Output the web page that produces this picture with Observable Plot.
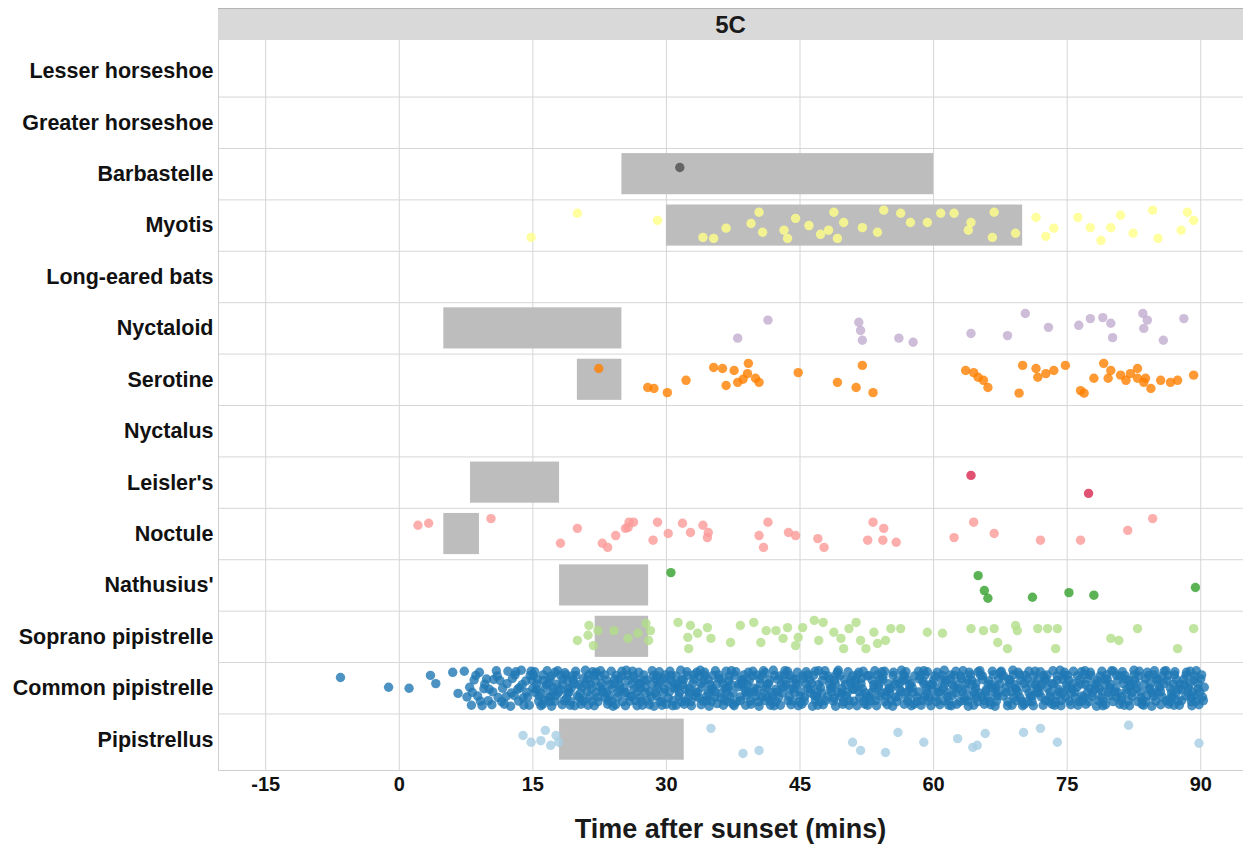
<!DOCTYPE html>
<html>
<head>
<meta charset="utf-8">
<script src="https://cdn.jsdelivr.net/npm/d3@7"></script>
<script src="https://cdn.jsdelivr.net/npm/@observablehq/plot@0.6"></script>
<style>
  body { margin: 0; background: #fff; }
  #wrap { position: relative; width: 1243px; height: 854px; font-family: "Liberation Sans", Arial, sans-serif; }
  #strip { position: absolute; left: 218px; top: 8px; width: 1025px; height: 32px; background: #d9d9d9; border-top: 1px solid #b5b5b5; box-sizing: border-box; display: flex; align-items: center; justify-content: center; font-weight: bold; font-size: 24px; color: #1a1a1a; }
  #chart { position: absolute; left: 0; top: 40px; }
  #xlabel { position: absolute; left: 218px; width: 1025px; top: 814px; line-height: 30px; text-align: center; font-weight: bold; font-size: 27px; color: #1a1a1a; }
</style>
</head>
<body>
<div id="wrap">
  <div id="strip"></div>
  <div id="chart"></div>
  <div id="xlabel"></div>
</div>
<script>
const panelLabel = "5C";
const xTitle = "Time after sunset (mins)";
const species = ["Lesser horseshoe","Greater horseshoe","Barbastelle","Myotis","Long-eared bats","Nyctaloid","Serotine","Nyctalus","Leisler's","Noctule","Nathusius'","Soprano pipistrelle","Common pipistrelle","Pipistrellus"];
const speciesColors = ["#999999","#999999","#4d4d4d","#FFFF88","#6A3D9A","#C2ACD0","#FF7F00","#FDBF6F","#D9264E","#FB9A99","#33A02C","#B2DF8A","#1F78B4","#A6CEE3"];
const xTicks = [-15, 0, 15, 30, 45, 60, 75, 90];
const xDomain = [-20.3, 94.8];
const yDomain = [-0.6, 13.6];

// grey bars: species, start, end (mins)
const barSpecies = ["Barbastelle","Myotis","Nyctaloid","Serotine","Leisler's","Noctule","Nathusius'","Soprano pipistrelle","Pipistrellus"];
const barStart = [25, 30, 5, 20, 8, 5, 18, 22, 18];
const barEnd   = [60, 70, 25, 25, 18, 9, 28, 28, 32];

// points: x (mins) and vertical jitter (fraction of row)
const barbastelleX = [31.5];
const barbastelleJ = [-0.13];

const myotisX = [14.8,20.0,29.0,34.1,35.3,36.7,39.5,40.4,40.8,43.2,43.6,44.5,46.0,47.3,48.2,48.8,49.2,49.9,52.0,53.7,54.4,56.3,57.4,59.3,60.8,62.3,63.9,64.2,66.8,66.6,69.2,71.5,72.6,73.5,76.2,77.6,78.8,79.9,81.0,82.4,84.6,85.2,87.8,88.5,89.2];
const myotisJ = [0.23,-0.24,-0.10,0.23,0.25,0.05,-0.04,-0.26,0.13,0.09,0.25,-0.14,0.00,0.17,0.09,-0.26,0.25,-0.06,0.04,0.13,-0.30,-0.24,-0.06,-0.06,-0.24,-0.24,0.09,-0.06,-0.26,0.23,0.15,-0.16,0.21,0.05,-0.16,0.04,0.29,0.04,-0.20,0.15,-0.30,0.25,0.09,-0.26,-0.10];

const nyctaloidX = [38.0,41.4,51.6,51.8,52.0,56.1,57.7,64.2,68.3,70.3,72.9,76.3,77.6,79.0,79.9,80.1,83.5,84.0,83.6,85.8,88.1];
const nyctaloidJ = [0.19,-0.16,-0.12,0.04,0.23,0.19,0.27,0.10,0.14,-0.29,-0.02,-0.06,-0.19,-0.21,-0.10,0.18,-0.29,-0.16,0.00,0.23,-0.19];

const serotineX = [22.4,27.9,28.6,30.1,32.2,35.3,36.3,37.6,36.7,38.0,38.6,39.2,39.1,40.0,40.4,44.8,49.2,51.3,52.0,53.2,63.6,64.5,65.0,65.6,66.1,69.6,70.0,71.5,71.7,72.6,73.5,74.8,76.5,76.9,78.0,79.1,79.6,79.9,81.0,81.6,82.1,82.9,82.9,83.6,83.8,84.4,85.5,86.6,87.4,89.2];
const serotineJ = [-0.22,0.15,0.17,0.25,0.01,-0.24,-0.22,-0.18,0.11,0.05,-0.01,-0.32,-0.12,-0.03,0.05,-0.14,0.05,0.15,-0.28,0.25,-0.18,-0.14,-0.05,0.01,0.15,0.26,-0.28,-0.22,-0.05,-0.12,-0.18,-0.28,0.21,0.26,-0.03,-0.32,-0.03,-0.18,-0.09,0.01,-0.12,-0.22,-0.03,0.05,-0.03,0.17,0.01,0.05,0.01,-0.09];

const leislerX = [64.2, 77.4];
const leislerJ = [-0.14, 0.21];

const noctuleX = [2.1,3.3,10.3,18.1,20.0,22.8,23.4,24.3,25.4,25.8,26.3,25.7,28.5,29.0,30.2,31.8,32.7,34.1,34.7,34.6,40.4,40.9,41.4,43.7,44.5,47.0,47.7,52.6,53.2,54.3,54.4,55.8,62.3,64.5,66.8,72.0,76.5,81.8,84.6];
const noctuleJ = [-0.17,-0.21,-0.30,0.18,-0.11,0.18,0.26,0.03,-0.11,-0.23,-0.23,-0.13,0.12,-0.23,-0.01,-0.21,-0.03,-0.17,-0.03,0.07,0.03,0.26,-0.23,-0.03,0.03,0.09,0.26,0.12,-0.23,0.12,-0.11,0.16,0.07,-0.23,-0.01,0.12,0.12,-0.07,-0.30];

const nathusiusX = [30.5,65.0,65.7,66.1,71.1,75.2,78.0,89.4];
const nathusiusJ = [-0.25,-0.19,0.10,0.25,0.23,0.14,0.19,0.04];

const sopranoX = [20.0,21.2,21.8,21.3,22.3,24.1,25.7,26.8,27.7,28.0,28.2,31.3,32.7,32.4,33.5,34.6,35.0,32.5,37.2,38.3,39.8,40.6,41.2,42.3,43.1,43.6,44.5,44.8,45.3,46.6,47.1,47.6,48.8,49.6,49.9,50.5,51.3,51.8,52.4,53.3,53.7,54.6,55.2,56.3,59.3,61.0,64.2,65.6,66.8,67.2,68.3,69.2,69.4,71.7,72.8,73.9,73.7,79.9,80.8,82.9,87.4,89.2];
const sopranoJ = [0.07,-0.03,0.17,-0.22,-0.12,-0.12,0.03,-0.07,-0.26,0.07,-0.12,-0.28,-0.22,0.01,-0.07,-0.18,0.03,0.23,0.11,-0.22,-0.28,0.11,-0.12,-0.12,0.03,-0.18,0.17,0.01,-0.18,-0.32,0.07,-0.28,-0.09,0.03,0.23,-0.16,-0.28,0.07,0.23,-0.09,0.13,0.07,-0.16,-0.16,-0.09,-0.07,-0.16,-0.12,-0.16,0.11,0.23,-0.22,-0.12,-0.16,-0.16,-0.16,0.23,0.03,0.07,-0.16,0.23,-0.16];

const commonX = [-6.6,-1.2,1.1,3.5,4.1,6.0,6.6,
7.3,7.6,7.9,8.1,8.4,8.8,9.0,9.3,9.5,9.8,10.1,10.4,10.6,10.9,11.1,11.3,11.6,11.8,12.0,12.2,12.5,12.7,12.9,13.1,13.3,13.5,13.7,13.9,14.0,14.2,14.4,14.6,14.8,14.9,
15.0,15.2,15.4,15.5,15.7,15.9, 16.1,16.2,16.4,16.6,16.7,16.9, 17.0,17.1,17.3,17.5,17.6,17.8, 18.1,18.3,18.4,18.6,18.8,18.9, 19.0,19.2,19.3,19.5,19.7,19.8,
20.0,20.2,20.4,20.5,20.7,20.9, 21.1,21.2,21.4,21.6,21.7,21.9, 22.0,22.1,22.3,22.5,22.6,22.8, 23.1,23.3,23.4,23.6,23.8,23.9, 24.0,24.2,24.3,24.5,24.7,24.8,
25.0,25.2,25.4,25.5,25.7,25.9, 26.1,26.2,26.4,26.6,26.7,26.9, 27.0,27.1,27.3,27.5,27.6,27.8, 28.1,28.3,28.4,28.6,28.8,28.9, 29.0,29.2,29.3,29.5,29.7,29.8,
30.0,30.2,30.4,30.5,30.7,30.9, 31.1,31.2,31.4,31.6,31.7,31.9, 32.0,32.1,32.3,32.5,32.6,32.8, 33.1,33.3,33.4,33.6,33.8,33.9, 34.0,34.2,34.3,34.5,34.7,34.8,
35.0,35.2,35.4,35.5,35.7,35.9, 36.1,36.2,36.4,36.6,36.7,36.9, 37.0,37.1,37.3,37.5,37.6,37.8, 38.1,38.3,38.4,38.6,38.8,38.9, 39.0,39.2,39.3,39.5,39.7,39.8,
40.0,40.2,40.4,40.5,40.7,40.9, 41.1,41.2,41.4,41.6,41.7,41.9, 42.0,42.1,42.3,42.5,42.6,42.8, 43.1,43.3,43.4,43.6,43.8,43.9, 44.0,44.2,44.3,44.5,44.7,44.8,
45.0,45.2,45.4,45.5,45.7,45.9, 46.1,46.2,46.4,46.6,46.7,46.9, 47.0,47.1,47.3,47.5,47.6,47.8, 48.1,48.3,48.4,48.6,48.8,48.9, 49.0,49.2,49.3,49.5,49.7,49.8,
50.0,50.2,50.4,50.5,50.7,50.9, 51.1,51.2,51.4,51.6,51.7,51.9, 52.0,52.1,52.3,52.5,52.6,52.8, 53.1,53.3,53.4,53.6,53.8,53.9, 54.0,54.2,54.3,54.5,54.7,54.8,
55.0,55.2,55.4,55.5,55.7,55.9, 56.1,56.2,56.4,56.6,56.7,56.9, 57.0,57.1,57.3,57.5,57.6,57.8, 58.1,58.3,58.4,58.6,58.8,58.9, 59.0,59.2,59.3,59.5,59.7,59.8,
60.0,60.2,60.4,60.5,60.7,60.9, 61.1,61.2,61.4,61.6,61.7,61.9, 62.0,62.1,62.3,62.5,62.6,62.8, 63.1,63.3,63.4,63.6,63.8,63.9, 64.0,64.2,64.3,64.5,64.7,64.8,
65.0,65.2,65.4,65.5,65.7,65.9, 66.1,66.2,66.4,66.6,66.7,66.9, 67.0,67.1,67.3,67.5,67.6,67.8, 68.1,68.3,68.4,68.6,68.8,68.9, 69.0,69.2,69.3,69.5,69.7,69.8,
70.0,70.2,70.4,70.5,70.7,70.9, 71.1,71.2,71.4,71.6,71.7,71.9, 72.0,72.1,72.3,72.5,72.6,72.8, 73.1,73.3,73.4,73.6,73.8,73.9, 74.0,74.2,74.3,74.5,74.7,74.8,
75.0,75.2,75.4,75.5,75.7,75.9, 76.1,76.2,76.4,76.6,76.7,76.9, 77.0,77.1,77.3,77.5,77.6,77.8, 78.1,78.3,78.4,78.6,78.8,78.9, 79.0,79.2,79.3,79.5,79.7,79.8,
80.0,80.2,80.4,80.5,80.7,80.9, 81.1,81.2,81.4,81.6,81.7,81.9, 82.0,82.1,82.3,82.5,82.6,82.8, 83.1,83.3,83.4,83.6,83.8,83.9, 84.0,84.2,84.3,84.5,84.7,84.8,
85.0,85.2,85.4,85.5,85.7,85.9, 86.1,86.2,86.4,86.6,86.7,86.9, 87.0,87.1,87.3,87.5,87.6,87.8, 88.1,88.3,88.4,88.6,88.8,88.9, 89.0,89.2,89.3,89.5,89.7,89.8,
90.0,90.2,90.4];
const commonJ = [-0.21,-0.02,0.00,-0.25,-0.09,-0.31,0.10,
-0.33,0.17,-0.02,0.33,-0.16,0.15,-0.31,0.34,0.01,-0.18,
0.02,0.32,-0.17,-0.34,0.18,-0.15,0.00,0.31,0.16,-0.33,
0.35,-0.19,0.14,-0.32,0.02,-0.01,-0.35,0.19,0.33,-0.14,
0.17,0.33,-0.33,-0.16,0.00,-0.32,0.02,-0.17,0.15,0.34,
0.31,-0.15,0.00,-0.34,0.17,-0.18,0.16,0.35,-0.01,-0.31,
0.14,-0.34,0.03,0.32,-0.18,-0.30,0.19,-0.15,0.01,0.33,
0.00,-0.16,0.34,-0.33,0.15,0.18,0.31,-0.02,-0.19,-0.35,
-0.17,0.33,0.16,0.01,-0.32,0.34,-0.14,-0.31,0.17,-0.03,
-0.34,0.02,0.18,-0.16,0.31,0.15,-0.33,0.00,0.35,-0.17,
0.32,0.17,-0.18,0.02,-0.33,-0.01,0.34,-0.35,-0.15,0.16,
0.16,-0.33,0.01,-0.17,0.34,-0.31,0.18,0.00,0.33,-0.15,
-0.02,-0.16,0.32,0.17,-0.34,0.35,-0.18,0.15,-0.01,-0.32,
-0.14,0.33,-0.19,0.02,0.31,0.19,-0.33,-0.15,0.34,0.00,
0.33,-0.01,0.16,-0.35,-0.17,-0.16,0.31,0.02,-0.32,0.17,
0.00,0.34,-0.17,0.15,-0.31,0.18,-0.35,0.32,-0.02,-0.15,
-0.31,0.15,-0.16,0.35,0.02,0.01,0.17,-0.34,0.30,-0.19,
0.19,-0.18,0.33,0.00,-0.33,-0.02,-0.15,0.16,-0.34,0.31,
0.34,-0.32,-0.03,0.17,-0.16,-0.17,0.01,0.33,0.14,-0.31,
-0.15,0.31,-0.33,0.00,0.16,0.02,0.35,-0.18,0.17,-0.34,
-0.30,0.00,0.18,-0.16,0.33,0.15,-0.35,0.34,0.02,-0.17,
0.18,0.33,-0.02,-0.34,-0.15,-0.33,0.16,0.01,0.32,-0.18,
0.01,-0.17,-0.31,0.34,0.15,0.31,-0.19,0.17,-0.32,0.00,
-0.16,0.02,0.35,0.14,-0.33,0.17,0.33,-0.34,-0.01,-0.15,
0.32,-0.34,0.16,-0.18,0.01,-0.02,0.19,-0.15,0.35,-0.31,
-0.35,0.16,0.00,0.31,-0.17,0.15,-0.32,0.33,-0.16,0.02,
0.02,-0.15,0.34,-0.31,0.18,-0.19,0.01,-0.33,0.31,0.16,
0.33,0.17,-0.16,0.00,-0.34,0.34,-0.02,0.15,-0.18,-0.32,
-0.17,-0.33,0.15,0.32,0.01,0.00,0.35,-0.31,0.17,-0.14,
0.16,0.02,-0.35,-0.15,0.31,-0.32,-0.17,0.18,0.02,0.34,
-0.01,0.31,0.17,-0.33,-0.18,0.33,-0.14,-0.34,0.16,0.00,
-0.32,0.18,0.34,0.02,-0.16,0.17,-0.31,-0.01,0.32,-0.17,
0.00,-0.35,-0.15,0.16,0.33,-0.18,0.34,0.14,-0.02,-0.33,
0.31,0.01,-0.19,-0.34,0.17,0.02,-0.16,0.35,-0.31,0.15,
-0.15,0.33,0.00,0.18,-0.32,-0.34,0.16,-0.17,0.31,0.03,
0.17,-0.14,0.32,-0.33,0.00,0.35,-0.02,0.15,-0.18,-0.31,
-0.33,0.15,-0.01,0.34,-0.17,-0.16,0.33,-0.35,0.18,0.01,
0.02,-0.31,0.18,-0.15,0.34,0.31,0.00,-0.18,-0.33,0.16,
0.15,0.34,-0.33,0.01,-0.17,-0.02,-0.32,0.17,0.33,-0.15,
-0.18,0.00,0.16,0.31,-0.34,0.33,0.14,-0.16,0.02,-0.35,
0.34,-0.17,-0.31,0.17,0.00,-0.15,0.32,0.01,-0.33,0.18,
-0.02,0.33,-0.16,-0.32,0.15,0.17,-0.34,0.31,-0.18,0.00,
-0.31,0.16,0.02,0.35,-0.15,0.01,0.18,-0.33,0.34,-0.17,
0.32,-0.18,0.15,-0.01,-0.34,-0.33,0.00,0.17,-0.16,0.31,
0.17,-0.32,0.33,-0.17,0.02,-0.15,0.34,-0.02,0.16,-0.35,
-0.16,0.01,-0.33,0.18,0.31,0.33,-0.19,0.15,-0.31,0.02,
0.00,0.35,0.16,-0.34,-0.17,-0.18,-0.01,0.32,0.17,-0.33,
-0.34,-0.15,0.31,0.00,0.17,0.16,0.33,-0.32,-0.16,0.02,
0.33,0.02,-0.17,0.15,-0.31,-0.01,-0.33,0.18,0.34,-0.16,
0.15,-0.34,0.01,0.32,-0.18,0.17,-0.02];

// second, denser pass of common pipistrelle passes (8-90 mins)
const commonX2 = [
8.2,8.6,9.1,9.6,10.0,10.5,11.0,11.5,12.1,12.6,13.0,13.4,13.8,14.3,14.7,
15.05,15.25,15.45,15.65,15.85, 16.15,16.35,16.55,16.75,16.95, 17.08,17.28,17.48,17.68,17.88, 18.12,18.32,18.52,18.72,18.92,
19.05,19.25,19.45,19.65,19.85, 20.15,20.35,20.55,20.75,20.95, 21.08,21.28,21.48,21.68,21.88, 22.12,22.32,22.52,22.72,22.92,
23.05,23.25,23.45,23.65,23.85, 24.15,24.35,24.55,24.75,24.95, 25.08,25.28,25.48,25.68,25.88, 26.12,26.32,26.52,26.72,26.92,
27.05,27.25,27.45,27.65,27.85, 28.15,28.35,28.55,28.75,28.95, 29.08,29.28,29.48,29.68,29.88, 30.12,30.32,30.52,30.72,30.92,
31.05,31.25,31.45,31.65,31.85, 32.15,32.35,32.55,32.75,32.95, 33.08,33.28,33.48,33.68,33.88, 34.12,34.32,34.52,34.72,34.92,
35.05,35.25,35.45,35.65,35.85, 36.15,36.35,36.55,36.75,36.95, 37.08,37.28,37.48,37.68,37.88, 38.12,38.32,38.52,38.72,38.92,
39.05,39.25,39.45,39.65,39.85, 40.15,40.35,40.55,40.75,40.95, 41.08,41.28,41.48,41.68,41.88, 42.12,42.32,42.52,42.72,42.92,
43.05,43.25,43.45,43.65,43.85, 44.15,44.35,44.55,44.75,44.95, 45.08,45.28,45.48,45.68,45.88, 46.12,46.32,46.52,46.72,46.92,
47.05,47.25,47.45,47.65,47.85, 48.15,48.35,48.55,48.75,48.95, 49.08,49.28,49.48,49.68,49.88, 50.12,50.32,50.52,50.72,50.92,
51.05,51.25,51.45,51.65,51.85, 52.15,52.35,52.55,52.75,52.95, 53.08,53.28,53.48,53.68,53.88, 54.12,54.32,54.52,54.72,54.92,
55.05,55.25,55.45,55.65,55.85, 56.15,56.35,56.55,56.75,56.95, 57.08,57.28,57.48,57.68,57.88, 58.12,58.32,58.52,58.72,58.92,
59.05,59.25,59.45,59.65,59.85, 60.15,60.35,60.55,60.75,60.95, 61.08,61.28,61.48,61.68,61.88, 62.12,62.32,62.52,62.72,62.92,
63.05,63.25,63.45,63.65,63.85, 64.15,64.35,64.55,64.75,64.95, 65.08,65.28,65.48,65.68,65.88, 66.12,66.32,66.52,66.72,66.92,
67.05,67.25,67.45,67.65,67.85, 68.15,68.35,68.55,68.75,68.95, 69.08,69.28,69.48,69.68,69.88, 70.12,70.32,70.52,70.72,70.92,
71.05,71.25,71.45,71.65,71.85, 72.15,72.35,72.55,72.75,72.95, 73.08,73.28,73.48,73.68,73.88, 74.12,74.32,74.52,74.72,74.92,
75.05,75.25,75.45,75.65,75.85, 76.15,76.35,76.55,76.75,76.95, 77.08,77.28,77.48,77.68,77.88, 78.12,78.32,78.52,78.72,78.92,
79.05,79.25,79.45,79.65,79.85, 80.15,80.35,80.55,80.75,80.95, 81.08,81.28,81.48,81.68,81.88, 82.12,82.32,82.52,82.72,82.92,
83.05,83.25,83.45,83.65,83.85, 84.15,84.35,84.55,84.75,84.95, 85.08,85.28,85.48,85.68,85.88, 86.12,86.32,86.52,86.72,86.92,
87.05,87.25,87.45,87.65,87.85, 88.15,88.35,88.55,88.75,88.95, 89.08,89.28,89.48,89.68,89.88,
90.1,90.3];
const commonJ2 = [
0.08,-0.25,0.25,-0.08,0.24,0.07,-0.24,0.26,-0.09,0.09,-0.26,0.25,-0.07,0.08,-0.25,
-0.25,0.08,-0.08,0.25,0.09,-0.26,0.24,-0.07,-0.09,0.26,
-0.24,0.07,0.25,-0.08,0.08,-0.25,-0.07,0.24,-0.26,0.09,
0.08,0.26,-0.24,-0.09,-0.25,-0.07,0.09,0.25,0.24,-0.08,
0.07,-0.26,-0.08,0.25,-0.25,0.08,0.26,-0.24,-0.09,0.07,
-0.26,0.09,0.24,-0.07,0.25,-0.09,-0.25,0.08,-0.07,-0.24,
0.26,0.09,0.08,-0.25,0.25,-0.08,-0.24,0.24,0.07,-0.09,
-0.09,0.25,-0.26,0.08,0.24,0.07,-0.08,-0.25,0.09,-0.24,
-0.07,0.26,0.25,0.08,-0.26,-0.09,0.07,-0.25,0.24,-0.08,
-0.24,-0.08,0.09,0.26,-0.07,0.25,-0.25,0.08,0.26,-0.09,
-0.26,0.07,0.08,-0.24,-0.09,0.25,-0.25,0.24,0.09,-0.07,
0.25,-0.25,0.07,-0.08,-0.26,0.09,-0.09,0.24,0.08,0.26,
-0.24,-0.07,0.09,-0.25,0.26,-0.08,0.24,-0.09,-0.26,0.07,
-0.08,0.08,0.25,-0.24,0.07,-0.26,0.26,-0.09,-0.25,0.09,
0.24,-0.07,-0.09,0.25,0.08,-0.25,0.26,0.07,-0.24,-0.08,
0.09,-0.26,-0.07,0.24,-0.25,0.25,0.08,-0.09,-0.08,0.26,
0.07,-0.24,0.25,-0.08,-0.26,0.09,-0.09,-0.25,0.24,0.08,
-0.07,0.26,0.09,-0.25,0.24,-0.24,-0.08,0.07,0.25,-0.09,
-0.26,0.08,-0.25,0.09,0.26,-0.07,0.08,0.24,-0.09,-0.24,
0.25,-0.08,-0.26,0.07,-0.09,0.25,0.09,-0.24,-0.25,0.24,
0.08,-0.07,0.24,-0.26,-0.08,0.09,-0.24,0.26,0.07,-0.09,
0.09,0.24,-0.25,-0.08,0.26,-0.09,0.07,-0.26,-0.24,0.08,
0.25,-0.07,-0.09,0.08,-0.24,0.26,0.07,-0.25,0.24,-0.08,
-0.26,0.09,0.25,-0.07,-0.08,-0.24,0.26,0.08,0.07,-0.25,
0.24,-0.09,0.08,0.25,-0.26,-0.07,-0.25,0.09,-0.08,0.26,
-0.24,0.07,0.24,-0.09,0.25,-0.26,-0.07,0.08,-0.09,0.26,
0.09,-0.25,-0.24,0.24,0.07,-0.08,0.26,-0.07,-0.26,0.08,
0.25,0.09,-0.08,-0.25,-0.24,0.08,0.26,-0.09,0.07,-0.26,
-0.07,0.24,0.08,-0.26,0.25,-0.09,-0.25,0.26,0.09,-0.08,
0.26,-0.24,-0.07,0.07,0.09,-0.08,-0.25,0.24,-0.26,0.25,
0.08,-0.09,-0.08,0.26,-0.24,0.07,0.24,0.09,-0.25,-0.07,
-0.25,0.25,0.09,-0.09,0.07,-0.24,0.26,-0.08,0.24,-0.26,
-0.07,0.08,0.26,-0.25,0.09,-0.08,-0.09,0.24,-0.24,0.07,
0.25,-0.07,-0.26,0.08,-0.08,0.26,0.07,-0.25,0.09,-0.24,
0.24,-0.09,-0.25,0.09,0.25,-0.07,0.08,-0.26,-0.08,0.26,
-0.24,0.07,0.24,-0.08,0.26,-0.25,-0.09,0.09,-0.26,0.25,
0.08,-0.07,0.07,-0.24,-0.09,0.24,-0.25,0.26,0.09,-0.08,
-0.26,0.09,0.25,-0.08,0.24,-0.07,-0.25,0.08,-0.09,0.26,
0.07,-0.24,0.25,-0.09,0.08,-0.26,0.24];

const pipistrellusX = [13.9,14.8,15.9,16.4,17.0,17.6,17.9,35.0,38.6,40.4,50.9,51.8,54.6,56.0,58.9,62.7,64.4,64.9,65.8,70.1,72.0,73.9,81.9,89.8];
const pipistrellusJ = [-0.08,0.05,0.02,-0.18,0.11,-0.08,0.05,-0.22,0.27,0.21,0.05,0.21,0.25,-0.14,0.05,-0.02,0.15,0.11,-0.12,-0.14,-0.22,0.05,-0.28,0.07];

const series = [
  ["Barbastelle", barbastelleX, barbastelleJ],
  ["Myotis", myotisX, myotisJ],
  ["Nyctaloid", nyctaloidX, nyctaloidJ],
  ["Serotine", serotineX, serotineJ],
  ["Leisler's", leislerX, leislerJ],
  ["Noctule", noctuleX, noctuleJ],
  ["Nathusius'", nathusiusX, nathusiusJ],
  ["Soprano pipistrelle", sopranoX, sopranoJ],
  ["Common pipistrelle", commonX, commonJ],
  ["Common pipistrelle", commonX2, commonJ2],
  ["Pipistrellus", pipistrellusX, pipistrellusJ]
];

const rowOf = new Map(species.map((s, i) => [s, i]));
const points = [];
for (const [sp, xs, js] of series) {
  const n = Math.min(xs.length, js.length);
  for (let i = 0; i < n; i++) points.push({species: sp, x: xs[i], y: rowOf.get(sp) + js[i]});
}
const bars = barSpecies.map((s, i) => ({species: s, x1: barStart[i], x2: barEnd[i], y1: rowOf.get(s) - 0.4, y2: rowOf.get(s) + 0.4}));
const rowBoundaries = species.slice(1).map((s, i) => i + 0.5);

document.getElementById("strip").textContent = panelLabel;
document.getElementById("xlabel").textContent = xTitle;

const chart = Plot.plot({
  width: 1243,
  height: 766,
  marginLeft: 218,
  marginRight: 0,
  marginTop: 0,
  marginBottom: 36,
  style: {fontFamily: "'Liberation Sans', Arial, sans-serif", background: "#fff", color: "#111"},
  x: {domain: xDomain},
  y: {domain: yDomain, reverse: true},
  color: {domain: species, range: speciesColors},
  marks: [
    Plot.ruleX(xTicks, {stroke: "#d6d6d6", strokeWidth: 1}),
    Plot.ruleY(rowBoundaries, {stroke: "#d6d6d6", strokeWidth: 1}),
    Plot.ruleX([xDomain[0]], {stroke: "#cfcfcf"}),
    Plot.ruleY([yDomain[1]], {stroke: "#cfcfcf"}),
    Plot.rect(bars, {x1: "x1", x2: "x2", y1: "y1", y2: "y2", fill: "#bdbdbd"}),
    Plot.dot(points, {x: "x", y: "y", r: 4.7, fill: "species", fillOpacity: 0.8, stroke: null}),
    Plot.axisY(d3.range(species.length), {tickFormat: i => species[i], tickSize: 0, tickPadding: 5, fontSize: 21.5, fontWeight: "bold", label: null}),
    Plot.axisX(xTicks, {tickFormat: d => String(d), tickSize: 0, tickPadding: 6, fontSize: 20, fontWeight: "bold", label: null})
  ]
});
document.getElementById("chart").appendChild(chart);
</script>
</body>
</html>
